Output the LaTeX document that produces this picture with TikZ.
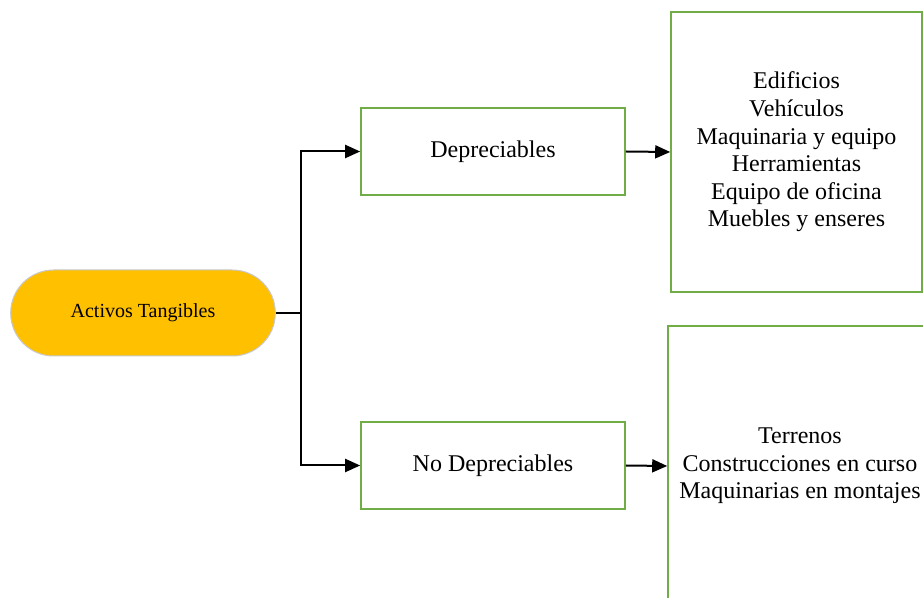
\documentclass[tikz,border=0pt]{standalone}
\usepackage{fontspec}
\setmainfont{Liberation Serif}
\usepackage{tikz}
\usetikzlibrary{arrows.meta, shapes.misc}
\definecolor{pillfill}{RGB}{255, 192, 0}
\definecolor{pilledge}{RGB}{200, 200, 205}
\definecolor{boxedge}{RGB}{112, 173, 71}

\begin{document}
\begin{tikzpicture}[x=0.5pt, y=-0.5pt,
		pillbox/.style={rounded rectangle, fill=pillfill, draw=pilledge, line width=0.5pt,
			minimum width=139pt, minimum height=43pt, font=\fontsize{10}{12}\selectfont},
		greenbox/.style={rectangle, draw=boxedge, line width=0.8pt, fill=white,
			minimum width=132pt, minimum height=43.5pt, font=\fontsize{12}{13.8}\selectfont},
		listbox/.style={greenbox, align=center, inner sep=0pt},
		connector/.style={line width=1pt, -{Triangle[length=7.5pt, width=6.5pt]}}]
		\clip (0,0) rectangle (923,598);
		
		% --- main node ---
		\node[pillbox] (activos) at (143,313) {Activos Tangibles};
		
		% --- middle column ---
		\node[greenbox] (dep)   at (493,151.5) {Depreciables};
		\node[greenbox] (nodep) at (493,465.5) {No Depreciables};
		
		% --- right column ---
		\node[listbox, minimum width=125.5pt, minimum height=140pt] (deplist) at (796.5,152)
			{Edificios\\Veh\'iculos\\Maquinaria y equipo\\Herramientas\\Equipo de oficina\\Muebles y enseres};
		\node[listbox, minimum width=132pt, minimum height=140pt] (nodeplist) at (800,466)
			{Terrenos\\Construcciones en curso\\Maquinarias en montajes};
		
		% --- connectors ---
		\coordinate (split) at (301,313);
		\draw[line width=1pt] (activos.east) -- (split);
		\draw[connector] (split) |- (dep.west);
		\draw[connector] (split) |- (nodep.west);
		\draw[connector] (dep.east) -- (deplist.west);
		\draw[connector] (nodep.east) -- (nodeplist.west);
	\end{tikzpicture}
\end{document}
